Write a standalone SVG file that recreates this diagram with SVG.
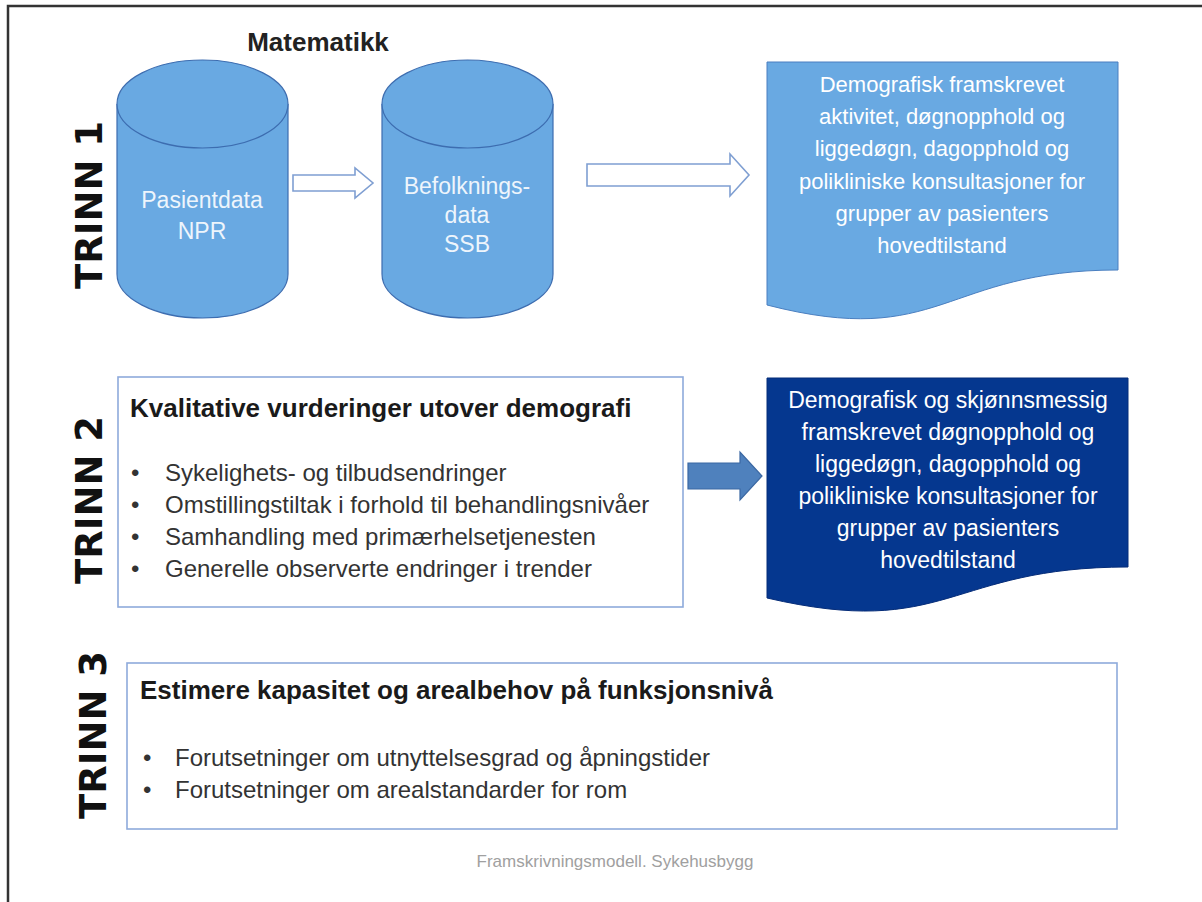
<svg xmlns="http://www.w3.org/2000/svg" width="1202" height="902" viewBox="0 0 1202 902">
<style>
.trinn{font-family:"DejaVu Sans",sans-serif;font-weight:bold;font-size:37px;fill:#111}
.wt{font-family:"Liberation Sans",sans-serif;font-size:22px;fill:#ffffff;text-anchor:middle}
.wt2{font-family:"Liberation Sans",sans-serif;font-size:23px;fill:#ffffff;text-anchor:middle}
.ct{font-family:"Liberation Sans",sans-serif;font-size:23px;fill:#eef5fc;text-anchor:middle}
.bt{font-family:"Liberation Sans",sans-serif;font-size:24px;fill:#333}
.hd{font-family:"Liberation Sans",sans-serif;font-size:26px;font-weight:bold;fill:#1a1a1a}
.cyl{fill:#69a9e2;stroke:#3d6db0;stroke-width:1.2}
.box{fill:#ffffff;stroke:#8eaadb;stroke-width:1.6}
.hollow{fill:#ffffff;stroke:#7f9fd2;stroke-width:1.6}
</style>
<rect width="1202" height="902" fill="#ffffff"/>
<path d="M8,902 V6 H1202" fill="none" stroke="#333" stroke-width="2.5"/>

<text x="318" y="51" style="font-family:'Liberation Sans',sans-serif;font-weight:bold;font-size:26px;fill:#222" text-anchor="middle">Matematikk</text>

<g id="trinn1"><text class="trinn" transform="translate(102,205) rotate(-90)" text-anchor="middle">TRINN 1</text></g>
<g id="trinn2"><text class="trinn" transform="translate(102,500) rotate(-90)" text-anchor="middle">TRINN 2</text></g>
<g id="trinn3"><text class="trinn" transform="translate(106,735) rotate(-90)" text-anchor="middle">TRINN 3</text></g>

<g id="pasientdata">
<path class="cyl" d="M117,104 A85.5,44 0 0 1 288,104 V274 A85.5,44 0 0 1 117,274 Z"/>
<path class="cyl" d="M117,104 A85.5,44 0 0 0 288,104"/>
<text class="ct" x="202" y="208">Pasientdata</text>
<text class="ct" x="202" y="239">NPR</text>
</g>

<g id="befolkningsdata">
<path class="cyl" d="M382,104 A85.5,44 0 0 1 553,104 V274 A85.5,44 0 0 1 382,274 Z"/>
<path class="cyl" d="M382,104 A85.5,44 0 0 0 553,104"/>
<text class="ct" x="467" y="194">Befolknings-</text>
<text class="ct" x="467" y="223">data</text>
<text class="ct" x="467" y="252">SSB</text>
</g>

<g id="demografisk1">
<path d="M767,62 H1118 V270 C942,270 942,350 767,305 Z" fill="#69a9e2" stroke="#4a7fc0" stroke-width="1"/>
<text class="wt" x="942" y="92">Demografisk framskrevet</text>
<text class="wt" x="942" y="124">aktivitet, døgnopphold og</text>
<text class="wt" x="942" y="156">liggedøgn, dagopphold og</text>
<text class="wt" x="942" y="189">polikliniske konsultasjoner for</text>
<text class="wt" x="942" y="221">grupper av pasienters</text>
<text class="wt" x="942" y="253">hovedtilstand</text>
</g>

<g id="kvalitative">
<rect class="box" x="118" y="377" width="565" height="230"/>
<text class="hd" x="130" y="417">Kvalitative vurderinger utover demografi</text>
<g class="bt">
<text x="131" y="481">•</text><text x="165" y="481">Sykelighets- og tilbudsendringer</text>
<text x="131" y="513">•</text><text x="165" y="513">Omstillingstiltak i forhold til behandlingsnivåer</text>
<text x="131" y="545">•</text><text x="165" y="545">Samhandling med primærhelsetjenesten</text>
<text x="131" y="577">•</text><text x="165" y="577">Generelle observerte endringer i trender</text>
</g>
</g>

<g id="demografisk2">
<path d="M767,378 H1128 V567 C948,567 948,640 767,598 Z" fill="#05378f" stroke="#052c78" stroke-width="1"/>
<text class="wt2" x="948" y="408">Demografisk og skjønnsmessig</text>
<text class="wt2" x="948" y="440">framskrevet døgnopphold og</text>
<text class="wt2" x="948" y="472">liggedøgn, dagopphold og</text>
<text class="wt2" x="948" y="504">polikliniske konsultasjoner for</text>
<text class="wt2" x="948" y="536">grupper av pasienters</text>
<text class="wt2" x="948" y="568">hovedtilstand</text>
</g>

<g id="estimere">
<rect class="box" x="127" y="663" width="990" height="166"/>
<text class="hd" x="140" y="699">Estimere kapasitet og arealbehov på funksjonsnivå</text>
<g class="bt">
<text x="143" y="766">•</text><text x="175" y="766">Forutsetninger om utnyttelsesgrad og  åpningstider</text>
<text x="143" y="798">•</text><text x="175" y="798">Forutsetninger om arealstandarder for rom</text>
</g>
</g>

<g id="connectors">
<path class="hollow" d="M293,175 H355 V168 L373,183 L355,198 V191 H293 Z"/>
<path class="hollow" d="M587,164 H730 V154 L749,175 L730,196 V186 H587 Z"/>
<path d="M688,463 H740 V452 L762,476 L740,500 V489 H688 Z" fill="#4f81bd" stroke="#3b68a3" stroke-width="1.2"/>
</g>

<text x="615" y="867" text-anchor="middle" style="font-family:'Liberation Sans',sans-serif;font-size:17px;fill:#a0a0a0">Framskrivningsmodell. Sykehusbygg</text>
</svg>
